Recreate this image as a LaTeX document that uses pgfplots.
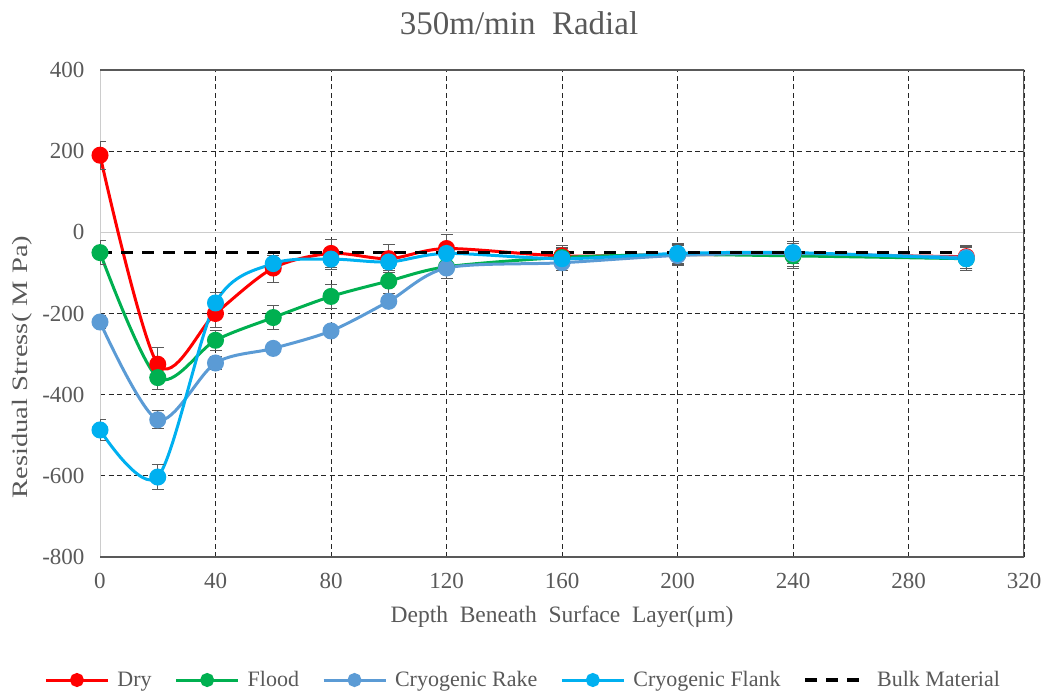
\documentclass[border=0pt]{standalone}
\usepackage{fontspec}
\setmainfont{Liberation Serif}
\usepackage{pgfplots}
\pgfplotsset{compat=1.18}
\definecolor{txt}{HTML}{595959}
\definecolor{cDry}{HTML}{FF0000}
\definecolor{cFlood}{HTML}{00B050}
\definecolor{cRake}{HTML}{5B9BD5}
\definecolor{cFlank}{HTML}{00B0F0}
\definecolor{ebar}{HTML}{5A5A5A}

\pgfplotstableread{
x y e
0 190 35
20 -325 40
40 -200 35
60 -88 35
80 -52 35
100 -65 35
120 -40 35
160 -58 25
200 -55 25
240 -55 28
300 -60 28
}\dry
\pgfplotstableread{
x y e
0 -50 30
20 -358 30
40 -266 25
60 -210 30
80 -158 30
100 -120 30
120 -85 30
160 -62 25
200 -55 25
240 -58 30
300 -65 28
}\flood
\pgfplotstableread{
x y e
0 -221 15
20 -462 22
40 -322 15
60 -286 12
80 -243 12
100 -170 12
120 -88 27
160 -75 20
200 -57 25
240 -52 25
300 -62 28
}\rake
\pgfplotstableread{
x y e
0 -487 25
20 -603 30
40 -174 25
60 -77 20
80 -66 25
100 -73 20
120 -52 20
160 -65 25
200 -52 25
240 -50 28
300 -65 28
}\flank
\pgfplotstableread{
x y
0 -50
300 -50
}\bulk

\begin{document}
\begin{tikzpicture}[x=1pt,y=1pt]
\path[use as bounding box] (0,0) rectangle (1050,694);
\begin{axis}[
  at={(100pt,137pt)}, anchor=south west,
  scale only axis, width=924pt, height=487pt,
  xmin=0, xmax=320, ymin=-800, ymax=400,
  xtick={0,40,...,320}, ytick={-800,-600,...,400},
  grid=major, grid style={dash pattern=on 5pt off 3.5pt, black!85, line width=1pt},
  axis line style={draw=none},
  major tick length=0pt,
  /pgf/number format/assume math mode=true,
  tick label style={font=\fontsize{23}{26}\selectfont, text=txt},
  yticklabel style={xshift=-12pt},
  xticklabel style={yshift=-13pt},
  legend style={draw=none, at={(0.458,-0.2526)}, anchor=center, legend columns=5,
    font=\fontsize{22}{26}\selectfont, text=txt,
    /tikz/every odd column/.append style={column sep=6pt},
    /tikz/every even column/.append style={column sep=21pt}},
  legend image code/.code={\draw[mark repeat=2,mark phase=2,#1,mark size=5.5pt] plot coordinates {(0pt,0pt) (31pt,0pt) (62pt,0pt)};},
  every axis plot/.append style={line width=3pt},
  error bars/y dir=both, error bars/y explicit,
  error bars/error bar style={draw=ebar, line width=1pt, solid},
  error bars/error mark options={rotate=90, mark size=6pt, draw=ebar, line width=1pt},
]
\draw[white, line width=3pt] (rel axis cs:0,0.6667) -- (rel axis cs:1,0.6667);
\draw[black!20, line width=1.2pt] (rel axis cs:0,0.6667) -- (rel axis cs:1,0.6667);
\draw[black!20, line width=1.4pt] (rel axis cs:0,0) -- (rel axis cs:0,1);
\draw[txt, line width=1.6pt] (rel axis cs:0,0) -- (rel axis cs:1,0) -- (rel axis cs:1,1) -- (rel axis cs:0,1);

\addplot[cDry, smooth, tension=0.5, mark=*, mark size=7pt, mark options={solid, fill=cDry, draw=cDry}] table[x=x, y=y, y error=e] {\dry};
\addlegendentry{Dry}
\addplot[cFlood, smooth, tension=0.5, mark=*, mark size=7pt, mark options={solid, fill=cFlood, draw=cFlood}] table[x=x, y=y, y error=e] {\flood};
\addlegendentry{Flood}
\addplot[cRake, smooth, tension=0.5, mark=*, mark size=7pt, mark options={solid, fill=cRake, draw=cRake}] table[x=x, y=y, y error=e] {\rake};
\addlegendentry{Cryogenic Rake}
\addplot[cFlank, smooth, tension=0.5, mark=*, mark size=7pt, mark options={solid, fill=cFlank, draw=cFlank}] table[x=x, y=y, y error=e] {\flank};
\addlegendentry{Cryogenic Flank}
\addplot[black, line width=3.5pt, dash pattern=on 12pt off 9pt, no markers, error bars/y dir=none] table[x=x, y=y] {\bulk};
\addlegendentry{Bulk Material}
\end{axis}
\node[text=txt, font=\fontsize{33}{38}\selectfont] at (519pt,671pt) {350m/min\ \ Radial};
\node[text=txt, font=\fontsize{23.5}{28}\selectfont] at (562pt,77pt) {Depth\ \ Beneath\ \ Surface\ \ Layer(μm)};
\node[text=txt, font=\fontsize{22}{26}\selectfont, rotate=90, xscale=1.3] at (22pt,327pt) {Residual Stress( M Pa)};
\end{tikzpicture}
\end{document}
